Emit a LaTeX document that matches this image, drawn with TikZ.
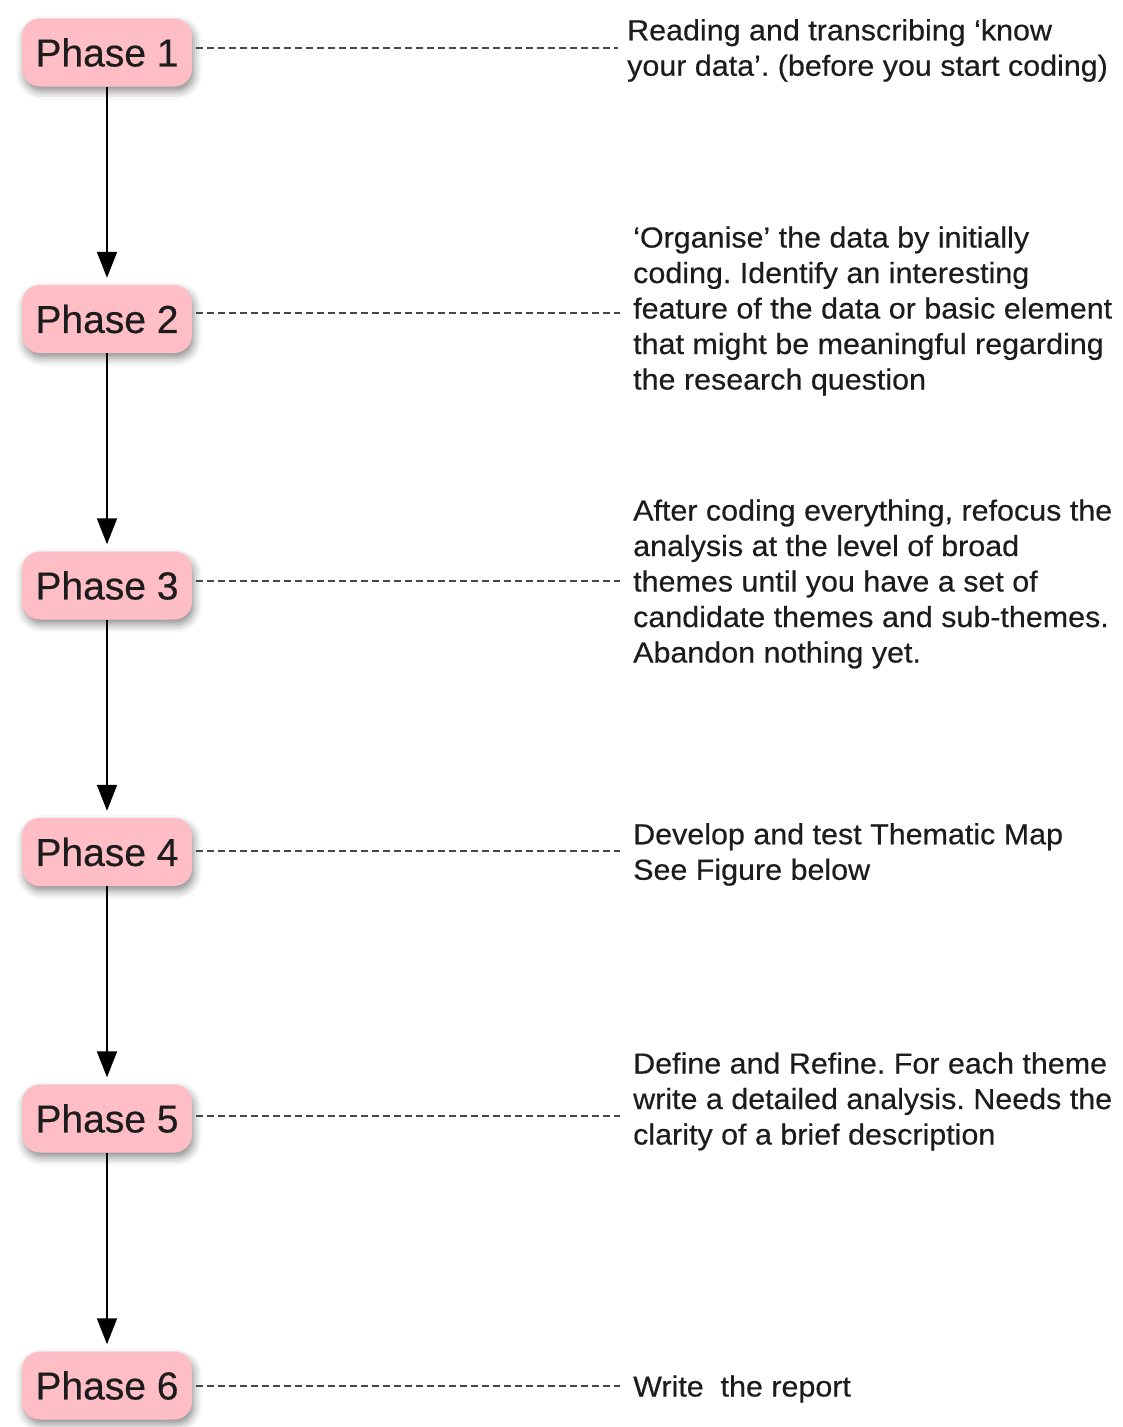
\documentclass[tikz,border=0pt]{standalone}
\usepackage{fontspec}
\setmainfont{Liberation Sans}
\newfontfamily\notefont[FakeStretch=1.05,FakeBold=0.4]{Liberation Sans}
\newfontfamily\phasefont[FakeBold=0.4]{Liberation Sans}
\usetikzlibrary{arrows.meta,shadows.blur}

\definecolor{phasepink}{HTML}{FFBEC5}
\definecolor{inkgray}{HTML}{1C1C1C}
\definecolor{dashgray}{HTML}{474747}

\tikzset{
  phasebox/.style={
    rounded corners=18pt, fill=phasepink, draw=none,
    minimum width=170pt, minimum height=68pt, inner sep=0pt,
    font=\phasefont\fontsize{39}{44}\selectfont, text=inkgray,
    blur shadow={shadow xshift=2pt, shadow yshift=-5pt,
                 shadow blur radius=8pt, shadow opacity=45}
  },
  notetext/.style={
    anchor=west, align=left, inner sep=0pt, text=inkgray,
    font=\notefont\frenchspacing\fontsize{29}{35.5}\selectfont
  },
  flow/.style={-{Triangle[width=20pt,length=26pt]}, line width=1.8pt, draw=black, shorten >=7pt},
  leader/.style={line width=2pt, draw=dashgray, dash pattern=on 7pt off 4pt}
}

\begin{document}
\begin{tikzpicture}[x=1pt, y=-1pt]
  \useasboundingbox (0,0) rectangle (1123,1427);

  % phase boxes down the left side
  \node[phasebox] (p1) at (107,  52.5) {Phase 1};
  \node[phasebox] (p2) at (107, 319)   {Phase 2};
  \node[phasebox] (p3) at (107, 585.5) {Phase 3};
  \node[phasebox] (p4) at (107, 852)   {Phase 4};
  \node[phasebox] (p5) at (107, 1118.5){Phase 5};
  \node[phasebox] (p6) at (107, 1385.5){Phase 6};

  % descriptions on the right
  \node[notetext] (t1) at (627, 50.5) {Reading and transcribing ‘know\\your data’. (before you start coding)};
  \node[notetext] (t2) at (633, 311) {‘Organise’ the data by initially\\coding. Identify an interesting\\feature of the data or basic element\\that might be meaningful regarding\\the research question};
  \node[notetext] (t3) at (633, 584) {After coding everything, refocus the\\analysis at the level of broad\\themes until you have a set of\\candidate themes and sub-themes.\\Abandon nothing yet.};
  \node[notetext] (t4) at (633, 854.5) {Develop and test Thematic Map\\See Figure below};
  \node[notetext] (t5) at (633, 1101.5) {Define and Refine. For each theme\\write a detailed analysis. Needs the\\clarity of a brief description};
  \node[notetext] (t6) at (633, 1389) {Write\ \ the report};

  % dashed leaders from each box to its description
  \coordinate (e1) at (618, 48);
  \coordinate (e2) at (620, 313);
  \coordinate (e3) at (620, 581);
  \coordinate (e4) at (620, 851);
  \coordinate (e5) at (620, 1116);
  \coordinate (e6) at (620, 1386);
  \draw[leader] (p1.east |- e1) ++(4,0) -- (e1);
  \draw[leader] (p2.east |- e2) ++(4,0) -- (e2);
  \draw[leader] (p3.east |- e3) ++(4,0) -- (e3);
  \draw[leader] (p4.east |- e4) ++(4,0) -- (e4);
  \draw[leader] (p5.east |- e5) ++(4,0) -- (e5);
  \draw[leader] (p6.east |- e6) ++(4,0) -- (e6);

  % flow arrows between consecutive phases
  \draw[flow] (p1) -- (p2);
  \draw[flow] (p2) -- (p3);
  \draw[flow] (p3) -- (p4);
  \draw[flow] (p4) -- (p5);
  \draw[flow] (p5) -- (p6);
\end{tikzpicture}
\end{document}
